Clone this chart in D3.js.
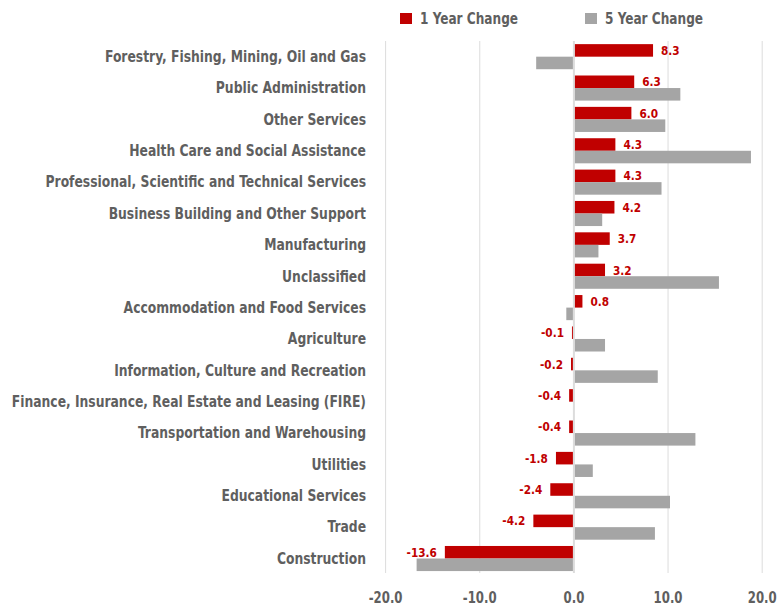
<!DOCTYPE html>
<html lang="en">
<head>
    <meta charset="UTF-8">
    <title>Employment change by industry</title>
    <script src="https://d3js.org/d3.v7.min.js"></script>
    <style>
        body { margin: 0; background: #fff; }
        svg text {
            font-family: "DejaVu Sans Condensed", "Liberation Sans Narrow", sans-serif;
            font-weight: bold;
        }
        .cat-label { fill: #5f5f5f; font-size: 15px; }
        .tick-label { fill: #5f5f5f; font-size: 15px; }
        .value-label { fill: #c00000; font-size: 13px; }
        .legend-label { fill: #5f5f5f; font-size: 15px; }
    </style>
</head>
<body>
    <svg width="784" height="605"></svg>
    <script>
        const categories = [
            "Forestry, Fishing, Mining, Oil and Gas",
            "Public Administration",
            "Other Services",
            "Health Care and Social Assistance",
            "Professional, Scientific and Technical Services",
            "Business Building and Other Support",
            "Manufacturing",
            "Unclassified",
            "Accommodation and Food Services",
            "Agriculture",
            "Information, Culture and Recreation",
            "Finance, Insurance, Real Estate and Leasing (FIRE)",
            "Transportation and Warehousing",
            "Utilities",
            "Educational Services",
            "Trade",
            "Construction"
        ];
        const oneYear = [8.3, 6.3, 6.0, 4.3, 4.3, 4.2, 3.7, 3.2, 0.8, -0.1, -0.2, -0.4, -0.4, -1.8, -2.4, -4.2, -13.6];
        const fiveYear = [-3.9, 11.2, 9.6, 18.7, 9.2, 2.9, 2.5, 15.3, -0.7, 3.2, 8.8, 0, 12.8, 1.9, 10.1, 8.5, -16.6];
        const seriesNames = ["1 Year Change", "5 Year Change"];
        const seriesColors = ["#c00000", "#a5a5a5"];
        const xTicks = [-20, -10, 0, 10, 20];

        // plain hyphen for negatives, like the original
        const fmt = v => v.toFixed(1);

        const svg = d3.select("svg");

        const x = d3.scaleLinear()
            .domain([-20, 20])
            .range([385.6, 762.2]);

        const y = d3.scaleBand()
            .domain(categories)
            .range([41, 574.2])
            .paddingInner(0.2)
            .paddingOuter(0.1);

        const ySeries = d3.scaleBand()
            .domain(seriesNames)
            .range([0, y.bandwidth()]);

        const rows = categories.map((c, i) => ({ cat: c, values: [oneYear[i], fiveYear[i]] }));

        // gridlines
        svg.append("g")
            .selectAll("line")
            .data(xTicks)
            .join("line")
            .attr("x1", d => x(d))
            .attr("x2", d => x(d))
            .attr("y1", 41)
            .attr("y2", 573)
            .attr("stroke", "#dcdcdc")
            .attr("stroke-width", d => d === 0 ? 2 : 1);

        // bars
        const groups = svg.append("g")
            .selectAll("g")
            .data(rows)
            .join("g")
            .attr("transform", d => `translate(0,${y(d.cat)})`);

        groups.selectAll("rect")
            .data(d => d.values.map((v, j) => ({ v, s: seriesNames[j], j })))
            .join("rect")
            .attr("x", d => x(Math.min(0, d.v)) + (d.v >= 0 ? 1 : -1))
            .attr("width", d => Math.abs(x(d.v) - x(0)))
            .attr("y", d => ySeries(d.s))
            .attr("height", ySeries.bandwidth())
            .attr("fill", d => seriesColors[d.j]);

        // condensed text: place in a group, squeeze horizontally
        function squeezed(sel, sx) {
            return sel.append("g")
                .attr("transform", d => `translate(${d.tx},${d.ty}) scale(${sx},1)`)
                .append("text")
                .attr("dy", "0.35em");
        }

        // value labels for 1 year change
        const valData = rows.map(d => {
            const v = d.values[0];
            return {
                v,
                tx: v >= 0 ? x(v) + 9 : x(v) - 9,
                ty: y(d.cat) + ySeries(seriesNames[0]) + ySeries.bandwidth() / 2
            };
        });
        squeezed(svg.append("g").selectAll("g").data(valData).join("g"), 0.9)
            .attr("class", "value-label")
            .attr("text-anchor", d => d.v >= 0 ? "start" : "end")
            .text(d => fmt(d.v));

        // category labels
        const catData = categories.map(c => ({ c, tx: 366, ty: y(c) + y.bandwidth() / 2 }));
        squeezed(svg.append("g").selectAll("g").data(catData).join("g"), 0.915)
            .attr("class", "cat-label")
            .attr("text-anchor", "end")
            .text(d => d.c);

        // x tick labels
        const tickData = xTicks.map(t => ({ t, tx: x(t), ty: 598 }));
        squeezed(svg.append("g").selectAll("g").data(tickData).join("g"), 0.87)
            .attr("class", "tick-label")
            .attr("text-anchor", "middle")
            .text(d => fmt(d.t));

        // legend
        const legendX = [400, 585];
        const legend = svg.append("g")
            .selectAll("g")
            .data(seriesNames)
            .join("g")
            .attr("transform", (d, i) => `translate(${legendX[i]},12)`);
        legend.append("rect")
            .attr("width", 12)
            .attr("height", 11)
            .attr("y", 1)
            .attr("fill", (d, i) => seriesColors[i]);
        legend.append("g")
            .attr("transform", "translate(20,6.5) scale(0.9,1)")
            .append("text")
            .attr("class", "legend-label")
            .attr("dy", "0.35em")
            .text(d => d);
    </script>
</body>
</html>
